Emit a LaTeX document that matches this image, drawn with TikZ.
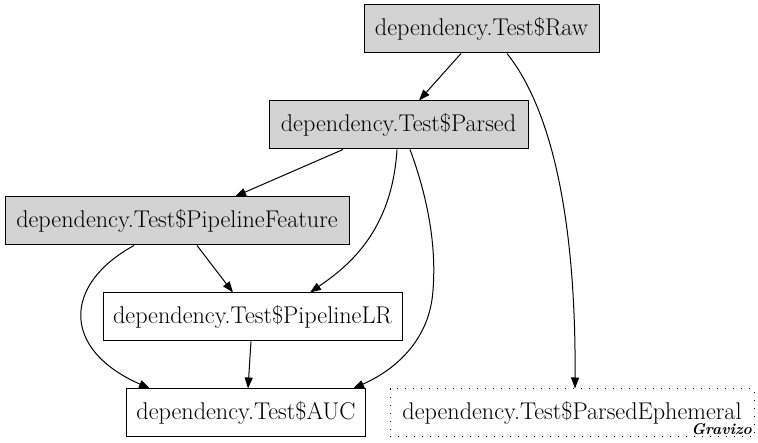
\documentclass[tikz,border=0pt]{standalone}
\usepackage{fontspec}
\usetikzlibrary{arrows.meta,calc}
\begin{document}
\begin{tikzpicture}[x=1pt,y=-1pt,
  box/.style={draw,line width=1pt,inner sep=0pt,font=\fontsize{24.2}{28}\selectfont,minimum height=48pt},
  grey/.style={box,fill=lightgrey},
  dottedbox/.style={box,draw,dash pattern=on 1.3pt off 6.7pt},
  edge/.style={line width=1pt,-{Triangle[length=11pt,width=8pt]}}]
\definecolor{lightgrey}{HTML}{D3D3D3}
\useasboundingbox (0,0) rectangle (758,443);
\node[grey,minimum width=235pt] (raw) at (481.5,29) {dependency.Test\$Raw};
\node[grey,minimum width=259pt] (parsed) at (398.5,125) {dependency.Test\$Parsed};
\node[grey,minimum width=344pt] (pf) at (177,221) {dependency.Test\$PipelineFeature};
\node[box,minimum width=299pt] (lr) at (252.5,317) {dependency.Test\$PipelineLR};
\node[box,minimum width=239pt] (auc) at (246,413) {dependency.Test\$AUC};
\node[dottedbox,minimum width=364pt] (eph) at (572,413) {dependency.Test\$ParsedEphemeral};
\node[font=\fontsize{15.5}{18}\selectfont\bfseries\itshape,anchor=base east,inner sep=0pt] (grav) at (752,435) {Gravizo};
\draw[edge] ($(raw.south)+(-20.5,0)$) -- ($(parsed.north)+(20.5,0)$);
\draw[edge] ($(raw.south)+(25.5,0)$) .. controls (560,120) and (576,250) .. ($(eph.north)+(3,0)$);
\draw[edge] ($(parsed.south)+(-55.5,0)$) -- ($(pf.north)+(58,0)$);
\draw[edge] ($(parsed.south)+(-1.5,0)$) .. controls (392,230) and (350,265) .. ($(lr.north)+(57.5,0)$);
\draw[edge] ($(parsed.south)+(11.5,0)$) .. controls (425,190) and (437,240) .. (433,290) .. controls (430,340) and (395,370) .. ($(auc.north)+(107,0)$);
\draw[edge] ($(pf.south)+(20,0)$) -- ($(lr.north)+(-19.5,0)$);
\draw[edge] ($(pf.south)+(-43,0)$) .. controls (62,285) and (62,350) .. ($(auc.north)+(-96,0)$);
\draw[edge] ($(lr.south)+(-1.5,0)$) -- ($(auc.north)+(2,0)$);
\end{tikzpicture}
\end{document}
